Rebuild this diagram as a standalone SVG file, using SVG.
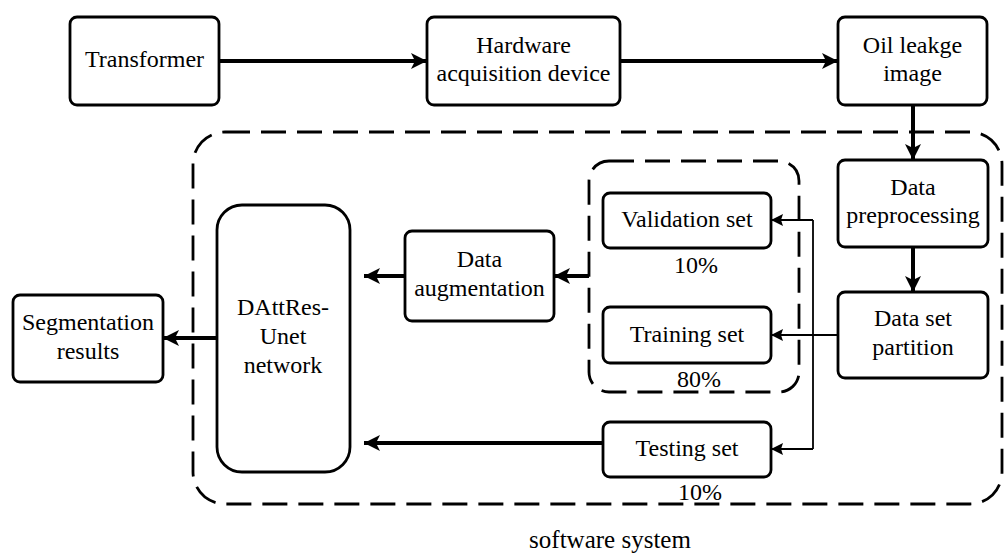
<svg xmlns="http://www.w3.org/2000/svg" width="1006" height="554" viewBox="0 0 1006 554" font-family="Times New Roman, Liberation Serif, serif" font-size="24">
<style>
.box{fill:#fff;stroke:#000;stroke-width:2.8}
.dash{fill:none;stroke:#000;stroke-width:2.8;stroke-dasharray:25 11}
text{fill:#000;text-anchor:middle}
.thick{stroke:#000;stroke-width:4;fill:none}
.thin{stroke:#000;stroke-width:1.8;fill:none}
</style>
<defs>
<marker id="ah" markerUnits="userSpaceOnUse" markerWidth="18" markerHeight="18" refX="16" refY="8" orient="auto">
<path d="M0,0 L16,8 L0,16 L4,8 Z" fill="#000"/>
</marker>
<marker id="ahs" markerUnits="userSpaceOnUse" markerWidth="14" markerHeight="14" refX="12" refY="6" orient="auto">
<path d="M0,0 L12,6 L0,12 L2,6 Z" fill="#000"/>
</marker>
</defs>
<rect width="1006" height="554" fill="#fff"/>
<g id="software-system">
<rect class="dash" x="193" y="132" width="809" height="372" rx="32"/>
<text x="610" y="548" font-size="25">software system</text>
</g>
<g id="split-group">
<rect class="dash" x="589" y="161" width="210" height="231" rx="20"/>
</g>
<g id="connectors">
<line class="thick" x1="219" y1="61" x2="427" y2="61" marker-end="url(#ah)"/>
<line class="thick" x1="620" y1="61" x2="838" y2="61" marker-end="url(#ah)"/>
<line class="thick" x1="913" y1="105" x2="913" y2="160" marker-end="url(#ah)"/>
<line class="thick" x1="913" y1="247" x2="913" y2="292" marker-end="url(#ah)"/>
<line class="thin" x1="838" y1="335" x2="771" y2="335" marker-end="url(#ahs)"/>
<polyline class="thin" points="813,220 813,449"/>
<line class="thin" x1="813" y1="220" x2="771" y2="220" marker-end="url(#ahs)"/>
<line class="thin" x1="813" y1="449" x2="771" y2="449" marker-end="url(#ahs)"/>
<line class="thick" x1="589" y1="276" x2="554" y2="276" marker-end="url(#ah)"/>
<line class="thick" x1="405" y1="276" x2="364" y2="276" marker-end="url(#ah)"/>
<line class="thick" x1="603" y1="443" x2="364" y2="443" marker-end="url(#ah)"/>
<line class="thick" x1="218" y1="338" x2="163" y2="338" marker-end="url(#ah)"/>
</g>
<g id="transformer">
<rect class="box" x="70" y="17" width="149" height="88" rx="7"/>
<text x="144.5" y="67">Transformer</text>
</g>
<g id="hardware">
<rect class="box" x="427" y="17" width="193" height="88" rx="7"/>
<text x="523.5" y="53">Hardware</text>
<text x="523.5" y="81">acquisition device</text>
</g>
<g id="oil-image">
<rect class="box" x="838" y="17" width="149" height="88" rx="7"/>
<text x="912.5" y="53">Oil leakge</text>
<text x="912.5" y="81">image</text>
</g>
<g id="preprocessing">
<rect class="box" x="838" y="160" width="150" height="87" rx="7"/>
<text x="913" y="195">Data</text>
<text x="913" y="223">preprocessing</text>
</g>
<g id="partition">
<rect class="box" x="838" y="292" width="150" height="86" rx="7"/>
<text x="913" y="326">Data set</text>
<text x="913" y="355">partition</text>
</g>
<g id="validation">
<rect class="box" x="603" y="193" width="168" height="55" rx="7"/>
<text x="687" y="227">Validation set</text>
<text x="696" y="273">10%</text>
</g>
<g id="training">
<rect class="box" x="603" y="307" width="168" height="56" rx="7"/>
<text x="687" y="342">Training set</text>
<text x="699" y="387">80%</text>
</g>
<g id="testing">
<rect class="box" x="603" y="422" width="168" height="55" rx="7"/>
<text x="687" y="456">Testing set</text>
<text x="700" y="500">10%</text>
</g>
<g id="augmentation">
<rect class="box" x="405" y="231" width="149" height="90" rx="7"/>
<text x="479.5" y="267">Data</text>
<text x="479.5" y="296">augmentation</text>
</g>
<g id="dattres">
<rect class="box" x="217" y="205" width="133" height="267" rx="25"/>
<text x="283" y="315">DAttRes-</text>
<text x="283" y="344">Unet</text>
<text x="283" y="373">network</text>
</g>
<g id="segmentation">
<rect class="box" x="13" y="295" width="150" height="87" rx="7"/>
<text x="88" y="330">Segmentation</text>
<text x="88" y="359">results</text>
</g>
</svg>
